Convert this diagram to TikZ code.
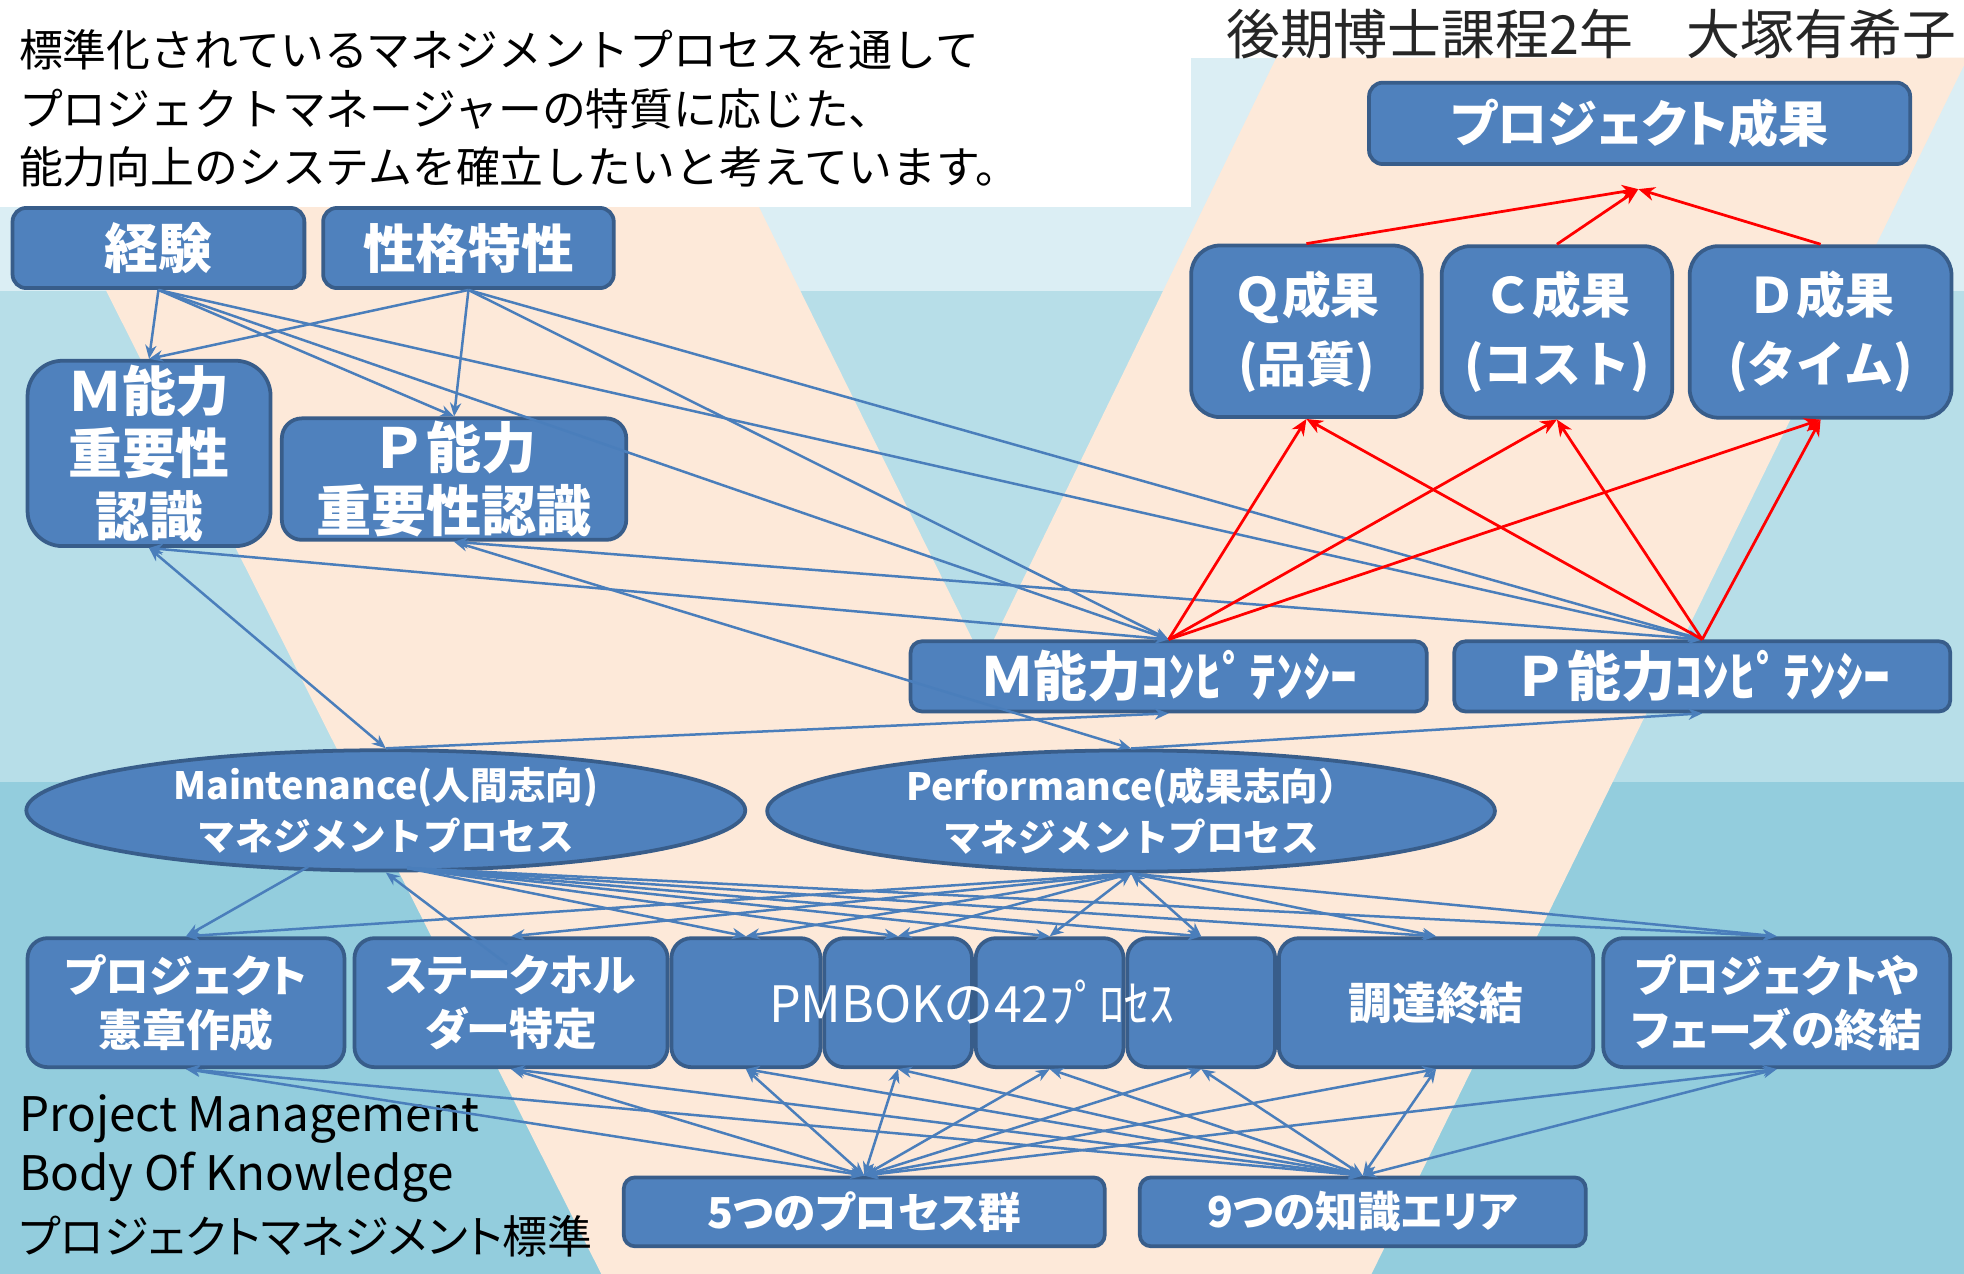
\documentclass[tikz,border=0pt]{standalone}
\usepackage{fontspec}
\setmainfont{Noto Sans CJK JP}
\newfontfamily\jpN{Noto Sans CJK JP}
\newfontfamily\jpP{Noto Sans CJK JP}[RawFeature=+palt]
\usetikzlibrary{arrows.meta,shapes.geometric}
\definecolor{bfill}{HTML}{4F81BD}
\definecolor{bborder}{HTML}{385D8A}
\definecolor{lineblue}{HTML}{4A7EBB}
\definecolor{bandA}{HTML}{DBEEF4}
\definecolor{bandB}{HTML}{B7DEE8}
\definecolor{bandC}{HTML}{93CDDD}
\definecolor{peach}{HTML}{FDE9D9}
\newcommand\fsz[2]{\fontsize{#1}{#2}\selectfont}
\tikzset{
  bx/.style={draw=bborder, fill=bfill, line width=3pt, text=white, align=center, inner sep=0pt},
  ell/.style={ellipse, draw=bborder, fill=bfill, line width=3pt, text=white, align=center, inner sep=0pt},
  bl/.style={draw=lineblue, line width=2pt, -{Stealth[length=11pt,width=9pt,inset=3.5pt]}},
  bb/.style={draw=lineblue, line width=2pt, {Stealth[length=11pt,width=9pt,inset=3.5pt]}-{Stealth[length=11pt,width=9pt,inset=3.5pt]}},
  rd/.style={draw=red, line width=2.2pt, -{Stealth[length=13pt,width=11pt,inset=4pt]}},
  plain/.style={inner sep=0pt, anchor=west, text=black}
}
\begin{document}
\begin{tikzpicture}[x=1pt,y=-1pt]
\useasboundingbox (0,0) rectangle (1568,1017);
\begin{scope}
\clip (0,0) rectangle (1568,1017);
\fill[white] (0,0) rectangle (1568,1017);
\fill[bandA] (0,46) rectangle (1568,232);
\fill[bandB] (0,232) rectangle (1568,624);
\fill[bandC] (0,624) rectangle (1568,1017);
\fill[peach] (-9,46) -- (547,46) -- (785,528) -- (1019,46) -- (1571,46) -- (1095,1017) -- (480,1017) -- cycle;
\fill[white] (0,0) rectangle (951,165);
\end{scope}

% texts
\node[plain, font=\jpN\fsz{35}{40}] (t1) at (15,40) {標準化されているマネジメントプロセスを通して};
\node[plain, font=\jpN\fsz{35}{40}] (t2) at (15,87) {プロジェクトマネージャーの特質に応じた、};
\node[plain, font=\jpN\fsz{35}{40}] (t3) at (15,133) {能力向上のシステムを確立したいと考えています。};
\node[inner sep=0pt, anchor=east, text=black!85, font=\jpN\fsz{43}{46}] (author) at (1562,27) {後期博士課程2年　大塚有希子};
\node[plain, font=\jpN\fsz{38}{42}] (pm1) at (15,893) {Project Management};
\node[plain, font=\jpN\fsz{38}{42}] (pm2) at (15,940) {Body Of Knowledge};
\node[plain, font=\jpP\fsz{36}{42}] (pm3) at (15,987) {プロジェクトマネジメント標準};

% boxes
\node[bx, rounded corners=11pt, minimum width=233pt, minimum height=64pt, font=\jpN\bfseries\fsz{43}{48}] (keiken) at (126.5,198) {経験};
\node[bx, rounded corners=11pt, minimum width=232pt, minimum height=64pt, font=\jpN\bfseries\fsz{42}{48}] (seikaku) at (374,198) {性格特性};
\node[bx, rounded corners=28pt, minimum width=194pt, minimum height=148pt, font=\jpN\bfseries\fsz{43}{50}] (mimp) at (119,362) {Ｍ能力\\重要性\\認識};
\node[bx, rounded corners=16pt, minimum width=275pt, minimum height=97pt, font=\jpN\bfseries\fsz{44}{50}] (pimp) at (362.5,382.5) {Ｐ能力\\重要性認識};
\node[bx, rounded corners=11pt, minimum width=432pt, minimum height=65pt, font=\jpP\bfseries\fsz{40}{46}] (pres) at (1309,98.5) {プロジェクト成果};
\node[bx, rounded corners=23pt, minimum width=184pt, minimum height=137pt, font=\jpN\bfseries\fsz{39}{55}] (q) at (1043,264.5) {Ｑ成果\\(品質)};
\node[bx, rounded corners=23pt, minimum width=184pt, minimum height=137pt, font=\jpN\bfseries\fsz{39}{55}] (c) at (1243,265) {Ｃ成果\\(コスト)};
\node[bx, rounded corners=23pt, minimum width=209pt, minimum height=137pt, font=\jpN\bfseries\fsz{39}{55}] (d) at (1453.5,265) {Ｄ成果\\(タイム)};
\node[bx, rounded corners=9pt, minimum width=412pt, minimum height=56pt, font=\jpN\bfseries\fsz{43}{46}] (mcomp) at (933,540) {Ｍ能力ｺﾝﾋﾟﾃﾝｼｰ};
\node[bx, rounded corners=9pt, minimum width=396pt, minimum height=56pt, font=\jpN\bfseries\fsz{43}{46}] (pcomp) at (1359,540) {Ｐ能力ｺﾝﾋﾟﾃﾝｼｰ};
\node[ell, minimum width=574pt, minimum height=92pt, font=\jpN\bfseries\fsz{30}{40}] (mell) at (308,647) {Maintenance(人間志向)\\マネジメントプロセス};
\node[ell, minimum width=581pt, minimum height=92pt, font=\jpN\bfseries\fsz{30}{40}] (pell) at (903,647.5) {Performance(成果志向）\\マネジメントプロセス};
\node[bx, rounded corners=16pt, minimum width=253pt, minimum height=103pt, font=\jpP\bfseries\fsz{35}{43}] (b1) at (148.5,800.5) {プロジェクト\\憲章作成};
\node[bx, rounded corners=16pt, minimum width=250pt, minimum height=103pt, font=\jpP\bfseries\fsz{35}{43}] (b2) at (408,800.5) {ステークホル\\ダー特定};
\node[bx, rounded corners=16pt, minimum width=119pt, minimum height=103pt] (b3) at (595.5,800.5) {};
\node[bx, rounded corners=16pt, minimum width=118pt, minimum height=103pt] (b4) at (717,800.5) {};
\node[bx, rounded corners=16pt, minimum width=118pt, minimum height=103pt] (b5) at (838,800.5) {};
\node[bx, rounded corners=16pt, minimum width=118pt, minimum height=103pt] (b6) at (959,800.5) {};
\node[bx, rounded corners=16pt, minimum width=251pt, minimum height=103pt, font=\jpP\bfseries\fsz{35}{43}] (b7) at (1146.5,800.5) {調達終結};
\node[bx, rounded corners=16pt, minimum width=277pt, minimum height=103pt, font=\jpP\bfseries\fsz{35}{43}] (b8) at (1418.5,800.5) {プロジェクトや\\フェーズの終結};
\node[inner sep=0pt, text=white, font=\jpN\fsz{40}{44}] (pmbok) at (776,800) {PMBOKの42ﾌﾟﾛｾｽ};
\node[bx, rounded corners=9pt, minimum width=384pt, minimum height=55pt, font=\jpP\bfseries\fsz{34}{40}] (five) at (690,967.5) {5つのプロセス群};
\node[bx, rounded corners=9pt, minimum width=356pt, minimum height=55pt, font=\jpP\bfseries\fsz{34}{40}] (nine) at (1088,967.5) {9つの知識エリア};

% coordinates
\coordinate (m1) at (246,692);
\coordinate (ms) at (325,693);
\coordinate (b2in) at (405,770);
\coordinate (pt) at (1308,151);

% blue connectors, upper part
\foreach \s in {keiken,seikaku}{
  \foreach \t in {mimp,pimp,mcomp,pcomp}{
    \draw[bl] (\s.south) -- (\t.north);
  }
}
\draw[bb] (mimp.south) -- (mell.north);
\draw[bb] (mimp.south) -- (mcomp.north);
\draw[bb] (pimp.south) -- (pcomp.north);
\draw[bb] (pimp.south) -- (pell.north);
\draw[bl] (mell.north) -- (mcomp.south);
\draw[bl] (pell.north) -- (pcomp.south);

% blue connectors, lower part
\draw[bl] (m1) -- (b1.north);
\draw[bl] (b2in) -- (mell.south);
\foreach \t in {b3,b4,b5,b6,b7,b8}{ \draw[bl] (ms) -- (\t.north); }
\foreach \t in {b1,b2,b3,b4,b7,b8}{ \draw[bl] (pell.south) -- (\t.north); }
\draw[bb] (pell.south) -- (b5.north);
\draw[bb] (pell.south) -- (b6.north);
\foreach \t in {b1,b2,b3,b4,b5,b6,b7,b8}{
  \draw[bb] (five.north) -- (\t.south);
  \draw[bb] (nine.north) -- (\t.south);
}

% red connectors
\foreach \s in {q,c,d}{ \draw[rd] (\s.north) -- (pt); }
\foreach \t in {q,c,d}{
  \draw[rd] (mcomp.north) -- (\t.south);
  \draw[rd] (pcomp.north) -- (\t.south);
}
\end{tikzpicture}
\end{document}
